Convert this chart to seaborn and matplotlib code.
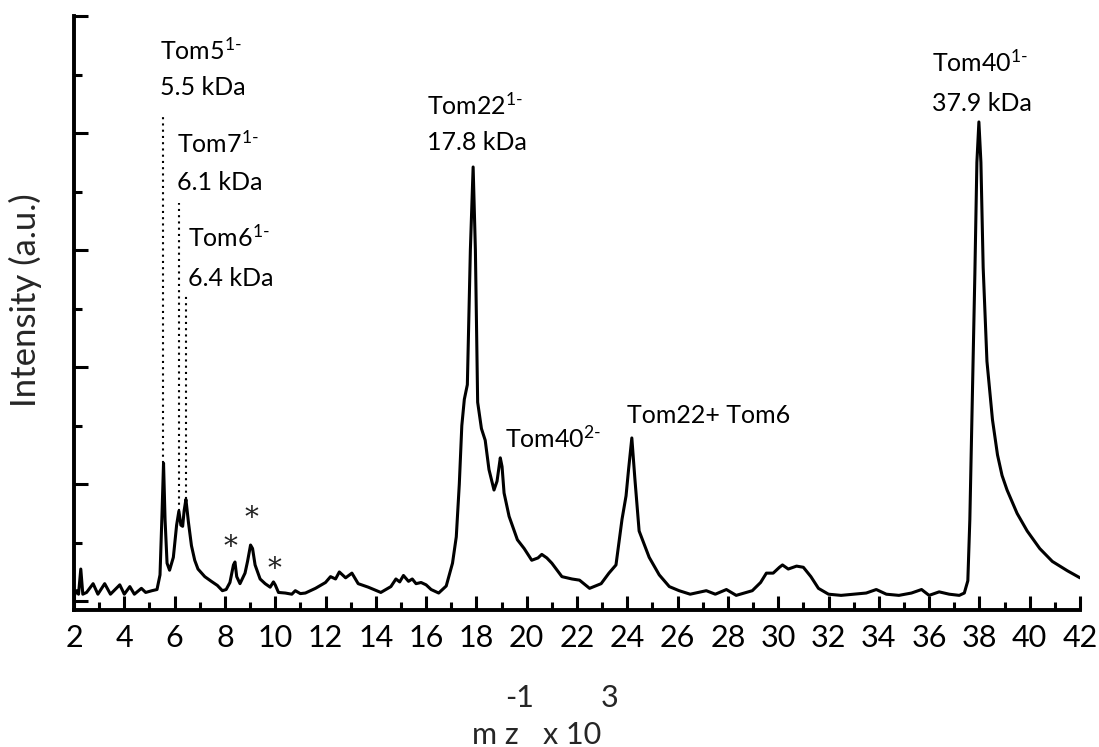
import numpy as np
import pandas as pd
import matplotlib
matplotlib.use("Agg")
import matplotlib.pyplot as plt
import seaborn as sns
from matplotlib.ticker import MultipleLocator

# ---------------- data ----------------
mz = [2.0, 2.1, 2.18, 2.27, 2.35, 2.5, 2.76, 2.95, 3.22, 3.45, 3.82, 4.0, 4.22, 4.4,
      4.68, 4.85, 5.1, 5.3, 5.42, 5.5, 5.56, 5.62, 5.7, 5.8, 5.95, 6.08, 6.17, 6.25,
      6.32, 6.38, 6.45, 6.55, 6.67, 6.8, 6.93, 7.2, 7.46, 7.7, 7.9, 8.05, 8.2, 8.34,
      8.4, 8.47, 8.6, 8.8, 8.9, 9.02, 9.1, 9.2, 9.4, 9.6, 9.8, 9.93, 10.0, 10.13,
      10.4, 10.66, 10.8, 11.0, 11.2, 11.6, 12.0, 12.2, 12.4, 12.55, 12.8, 13.05,
      13.3, 13.7, 14.2, 14.6, 14.8, 14.95, 15.1, 15.3, 15.45, 15.6, 15.8, 16.0,
      16.2, 16.5, 16.8, 17.05, 17.2, 17.32, 17.42, 17.52, 17.64, 17.76, 17.87,
      17.96, 18.05, 18.2, 18.35, 18.5, 18.7, 18.82, 18.95, 19.02, 19.1, 19.3,
      19.63, 19.9, 20.2, 20.45, 20.6, 20.8, 21.0, 21.4, 21.8, 22.1, 22.5, 22.96,
      23.27, 23.55, 23.79, 23.95, 24.05, 24.18, 24.3, 24.47, 24.87, 25.27, 25.67,
      26.06, 26.5, 27.14, 27.5, 27.94, 28.33, 28.97, 29.3, 29.53, 29.8, 30.05,
      30.17, 30.4, 30.73, 31.0, 31.3, 31.6, 32.0, 32.5, 33.0, 33.5, 33.9, 34.3,
      34.8, 35.3, 35.7, 36.0, 36.4, 36.8, 37.2, 37.4, 37.54, 37.62, 37.7, 37.82,
      37.9, 37.98, 38.06, 38.15, 38.3, 38.52, 38.72, 38.9, 39.1, 39.5, 39.9, 40.4,
      40.9, 41.5, 42.0]
intensity = [0.08, 0.18, 0.12, 0.55, 0.12, 0.15, 0.3, 0.12, 0.3, 0.12, 0.28, 0.12,
             0.25, 0.12, 0.22, 0.15, 0.18, 0.2, 0.45, 1.5, 2.36, 1.4, 0.65, 0.53,
             0.75, 1.3, 1.54, 1.3, 1.28, 1.55, 1.74, 1.35, 0.95, 0.7, 0.55, 0.42,
             0.34, 0.27, 0.18, 0.2, 0.32, 0.62, 0.67, 0.42, 0.3, 0.48, 0.68, 0.96,
             0.9, 0.62, 0.38, 0.3, 0.24, 0.33, 0.28, 0.15, 0.14, 0.12, 0.18, 0.13,
             0.14, 0.22, 0.32, 0.42, 0.38, 0.5, 0.4, 0.48, 0.3, 0.24, 0.15, 0.25,
             0.38, 0.33, 0.44, 0.34, 0.38, 0.3, 0.32, 0.28, 0.2, 0.14, 0.26, 0.65,
             1.1, 2.0, 3.0, 3.45, 3.7, 6.0, 7.42, 6.0, 3.4, 2.95, 2.75, 2.25, 1.9,
             2.05, 2.45, 2.3, 1.85, 1.45, 1.05, 0.9, 0.7, 0.74, 0.8, 0.74, 0.65,
             0.42, 0.38, 0.36, 0.22, 0.3, 0.48, 0.62, 1.4, 1.8, 2.25, 2.79, 2.1,
             1.2, 0.75, 0.45, 0.25, 0.18, 0.12, 0.18, 0.12, 0.2, 0.1, 0.18, 0.32,
             0.48, 0.48, 0.58, 0.62, 0.55, 0.6, 0.58, 0.42, 0.22, 0.12, 0.1, 0.12,
             0.14, 0.2, 0.12, 0.1, 0.14, 0.2, 0.1, 0.16, 0.12, 0.1, 0.14, 0.35,
             1.4, 3.1, 5.6, 7.5, 8.19, 7.5, 5.7, 4.1, 3.1, 2.5, 2.15, 1.9, 1.5,
             1.2, 0.9, 0.68, 0.52, 0.4]

xticks = list(range(2, 43, 2))
tick_labels = [str(t) for t in xticks]

# annotations: (label, x, y)
ann_names = ["Tom5$^{1\\text{-}}$", "5.5 kDa", "Tom7$^{1\\text{-}}$", "6.1 kDa",
             "Tom6$^{1\\text{-}}$", "6.4 kDa", "Tom22$^{1\\text{-}}$", "17.8 kDa",
             "Tom40$^{2\\text{-}}$", "Tom22+ Tom6", "Tom40$^{1\\text{-}}$", "37.9 kDa"]
ann_x = [5.43, 5.43, 6.08, 6.08, 6.53, 6.53, 16.05, 16.05, 19.12, 24.0, 36.1, 36.1]
ann_y = [9.42, 8.77, 7.83, 7.16, 6.21, 5.52, 8.48, 7.83, 2.78, 3.18, 9.2, 8.51]

# dotted guide lines: x position, from peak height up to top
guide_x = [5.55, 6.17, 6.45]
guide_lo = [2.36, 1.54, 1.74]
guide_hi = [8.27, 6.80, 5.27]

star_x = [8.24, 9.04, 9.99]
star_y = [0.92, 1.42, 0.55]

# ---------------- plotting ----------------
sns.set_theme(style="ticks")
plt.rcParams["font.family"] = ["Lato", "DejaVu Sans"]
plt.rcParams["mathtext.fontset"] = "custom"
plt.rcParams["mathtext.rm"] = "Lato"
plt.rcParams["mathtext.it"] = "Lato"
plt.rcParams["mathtext.bf"] = "Lato"

W, H = 1099, 747
fig = plt.figure(figsize=(W / 100, H / 100), dpi=100)
left, right, top, bottom = 74, 1080, 16, 610
ax = fig.add_axes([left / W, 1 - bottom / H, (right - left) / W, (bottom - top) / H])

df = pd.DataFrame({"mz": mz, "I": intensity})
sns.lineplot(data=df, x="mz", y="I", ax=ax, color="black", linewidth=2.2,
             estimator=None, sort=False)

ax.set_xlim(2, 42)
ax.set_ylim(-0.15, 10)
ax.set_xticks(xticks)
ax.set_xticklabels(tick_labels, fontsize=22)
ax.xaxis.set_minor_locator(MultipleLocator(1))
ax.yaxis.set_major_locator(MultipleLocator(2))
ax.yaxis.set_minor_locator(MultipleLocator(1))
ax.set_yticklabels([])
ax.tick_params(axis="both", which="major", direction="in", length=10, width=2.2,
               colors="black", pad=10)
ax.tick_params(axis="both", which="minor", direction="in", length=5.5, width=2.2,
               colors="black")
for s in ["top", "right"]:
    ax.spines[s].set_visible(False)
for s in ["left", "bottom"]:
    ax.spines[s].set_linewidth(2.8)
    ax.spines[s].set_color("black")
ax.set_xlabel("")
ax.set_ylabel("")

for gx, lo, hi in zip(guide_x, guide_lo, guide_hi):
    ax.plot([gx, gx], [lo, hi], color="black", linestyle=(0, (1, 2)), linewidth=1.5)

for name, x, y in zip(ann_names, ann_x, ann_y):
    ax.text(x, y, name, fontsize=18, ha="left", va="center", color="black")

for x, y in zip(star_x, star_y):
    ax.text(x, y, "*", fontsize=20, ha="center", va="center", color="#222222",
            family="DejaVu Serif")

# y label
fig.text(25 / W, 1 - 300 / H, "Intensity (a.u.)", rotation=90, fontsize=25,
         ha="center", va="center")
# x label (broken superscripts, as in the reference)
fig.text(495 / W, 1 - 735 / H, "m z", fontsize=22, ha="center", va="center")
fig.text(520 / W, 1 - 698 / H, "-1", fontsize=22, ha="center", va="center")
fig.text(572 / W, 1 - 735 / H, "x 10", fontsize=22, ha="center", va="center")
fig.text(610 / W, 1 - 698 / H, "3", fontsize=22, ha="center", va="center")

fig.savefig("out.png", dpi=100, facecolor="white")
